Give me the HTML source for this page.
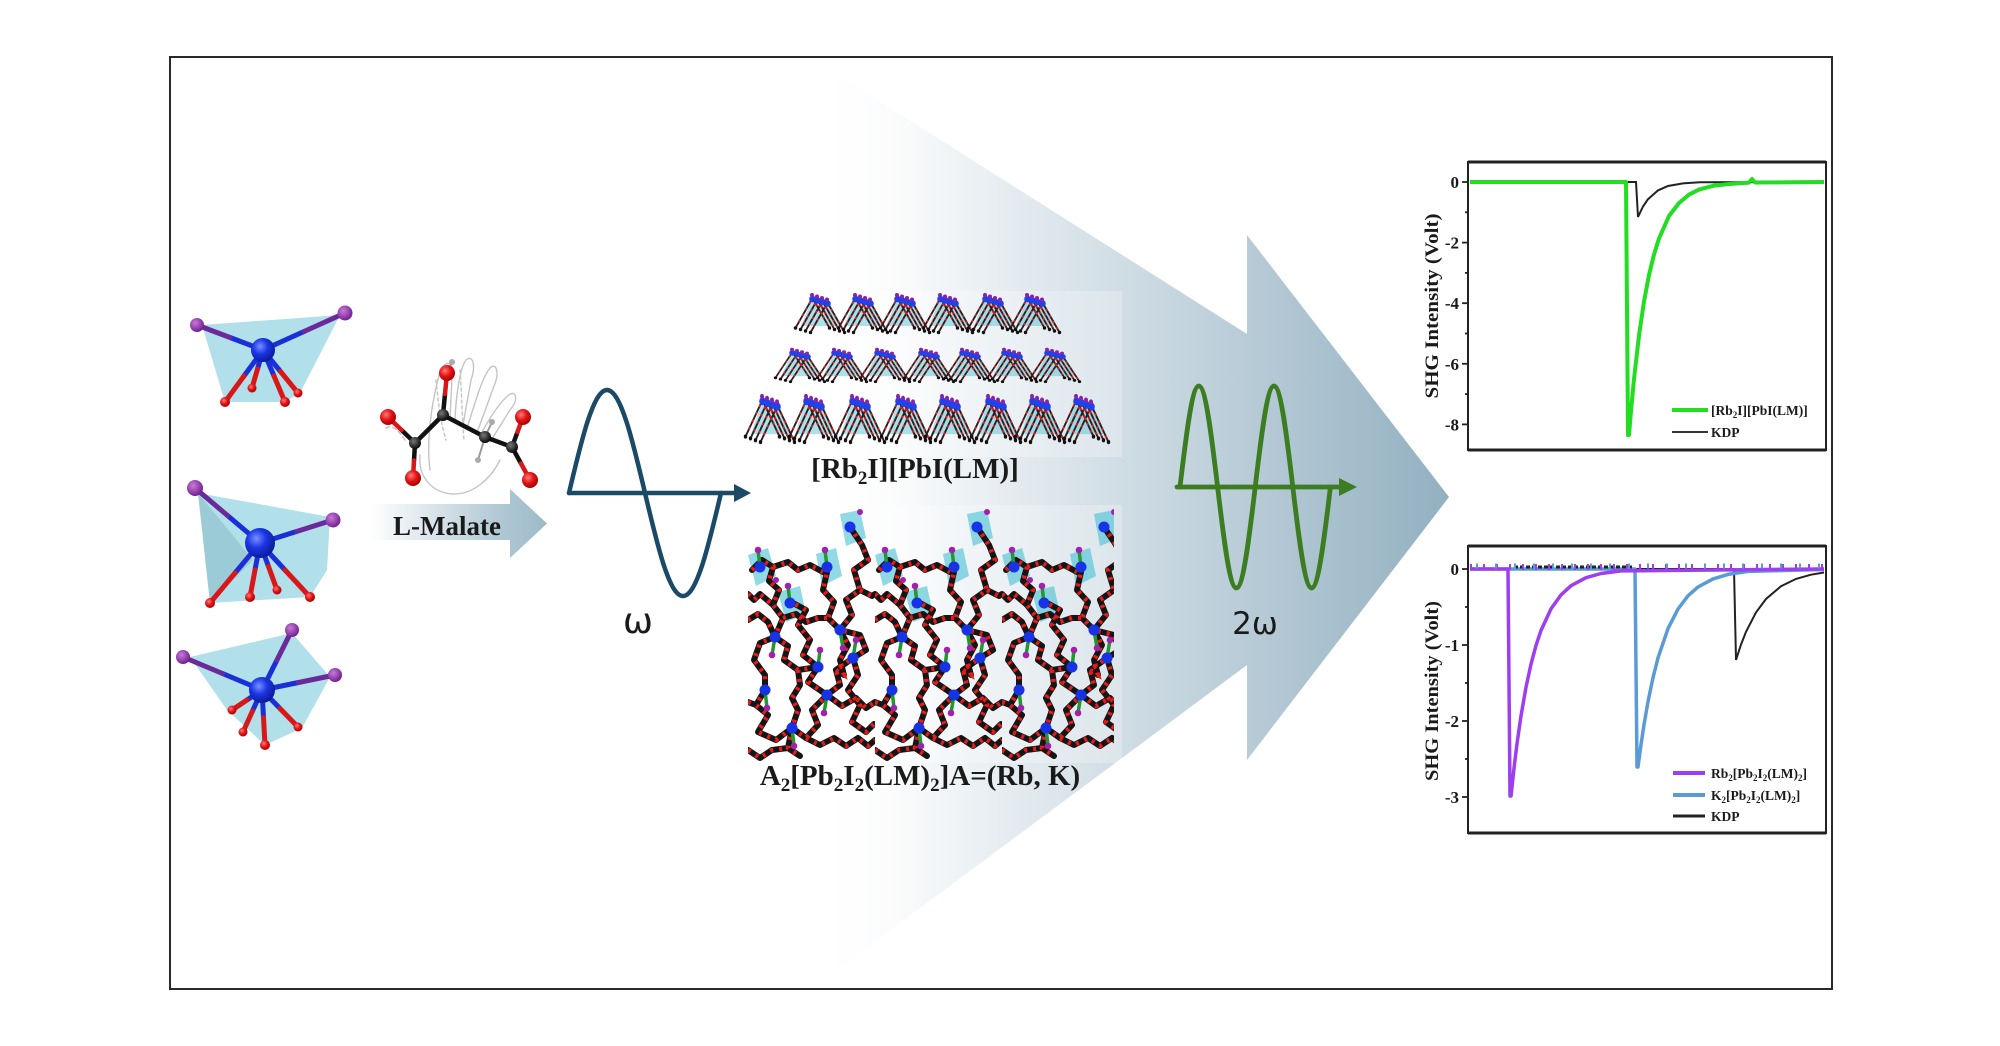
<!DOCTYPE html>
<html><head><meta charset="utf-8"><style>
html,body{margin:0;padding:0;background:#fff;}
svg{display:block;}
text{font-family:"Liberation Serif",serif;}
</style></head><body>
<svg width="2000" height="1046" viewBox="0 0 2000 1046" xmlns="http://www.w3.org/2000/svg">
<defs>
 <linearGradient id="ga" gradientUnits="userSpaceOnUse" x1="830" y1="0" x2="1450" y2="0">
  <stop offset="0" stop-color="#ffffff"/><stop offset="0.1" stop-color="#fbfcfd"/><stop offset="1" stop-color="#92b0c1"/>
 </linearGradient>
 <linearGradient id="gm" gradientUnits="userSpaceOnUse" x1="370" y1="0" x2="547" y2="0">
  <stop offset="0" stop-color="#ffffff"/><stop offset="0.75" stop-color="#afc7d3"/><stop offset="1" stop-color="#9dbac9"/>
 </linearGradient>
 <radialGradient id="gPb" cx="0.38" cy="0.35" r="0.7"><stop offset="0" stop-color="#7a90ff"/><stop offset="0.45" stop-color="#1b36e6"/><stop offset="1" stop-color="#0a1890"/></radialGradient>
 <radialGradient id="gI" cx="0.38" cy="0.35" r="0.7"><stop offset="0" stop-color="#c77ad8"/><stop offset="1" stop-color="#6e1a8c"/></radialGradient>
 <radialGradient id="gO" cx="0.38" cy="0.35" r="0.7"><stop offset="0" stop-color="#ff7a7a"/><stop offset="0.5" stop-color="#e41414"/><stop offset="1" stop-color="#a00000"/></radialGradient>
 <radialGradient id="gC" cx="0.38" cy="0.35" r="0.7"><stop offset="0" stop-color="#777"/><stop offset="1" stop-color="#000"/></radialGradient>

 <g id="pkl">
  <polyline points="-24.5,30 -7.5,0 9.5,30"/>
  <polyline points="-19.5,31.5 -2.5,1.5 14.5,31.5"/>
  <polyline points="-14.5,33 2.5,3 19.5,33"/>
  <polyline points="-9.5,34.5 7.5,4.5 24.5,34.5"/>
 </g>
 <g id="pk">
  <polygon points="-7.5,0 7.5,4.5 21,28 -19,28" fill="#56c4d8" opacity=".5"/>
  <use href="#pkl" fill="none" stroke="#222" stroke-width="1.8" stroke-linejoin="round"/>
  <use href="#pkl" fill="none" stroke="#e01e1e" stroke-width="2" stroke-dasharray="2 5"/>
  <g fill="#2242e8"><circle cx="-7.5" cy="1" r="3.3"/><circle cx="-2.5" cy="2.5" r="3.3"/><circle cx="2.5" cy="4" r="3.3"/><circle cx="7.5" cy="5.5" r="3.3"/></g>
  <g fill="#8d1fa8"><circle cx="-8" cy="-3" r="2"/><circle cx="-3" cy="-1.5" r="2"/><circle cx="2" cy="0" r="2"/><circle cx="7" cy="1.5" r="2"/></g>
  <g fill="#111"><circle cx="-24.5" cy="30" r="1.7"/><circle cx="-19.5" cy="31.5" r="1.7"/><circle cx="-14.5" cy="33" r="1.7"/><circle cx="-9.5" cy="34.5" r="1.7"/><circle cx="9.5" cy="30" r="1.7"/><circle cx="14.5" cy="31.5" r="1.7"/><circle cx="19.5" cy="33" r="1.7"/><circle cx="24.5" cy="34.5" r="1.7"/></g>
 </g>

 <g id="chains">
  <path d="M4,60 L14,50 L25,57 L21,71 L31,80 L25,95 L35,108 L27,127"/>
  <path d="M27,127 L40,136 L36,150 L50,160 L70,157"/>
  <path d="M70,157 L60,172 L79,185"/>
  <path d="M79,185 L92,175 L88,160 L105,148"/>
  <path d="M105,148 L118,140 L112,125 L92,120"/>
  <path d="M92,120 L80,108 L86,92 L75,80 L79,62"/>
  <path d="M92,120 L104,105 L98,90 L112,80 L106,60 L120,50 L114,35 L104,20"/>
  <path d="M17,180 L8,195 L20,205 L10,222 L28,230 L44,218"/>
  <path d="M44,218 L58,228 L70,215 L64,200 L79,185"/>
  <path d="M27,127 L12,133 L6,150 L17,165 L17,180"/>
  <path d="M105,148 L110,165 L100,180 L112,195 L104,212 L118,222 L126,214"/>
  <path d="M70,157 L55,145 L62,130 L50,115 L58,100 L45,93"/>
  <path d="M44,218 L40,238 L52,246"/>
  <path d="M0,110 L10,104 L20,112 L27,127"/>
  <path d="M35,108 L48,104 L58,112 L70,108 L80,108"/>
  <path d="M50,160 L52,175 L44,188 L50,200 L44,218"/>
  <path d="M88,160 L96,165 L92,150 L100,135 L92,120"/>
  <path d="M0,240 L12,248 L24,240 L40,238"/>
  <path d="M58,228 L72,235 L86,228 L98,236 L110,228 L120,236 L127,230"/>
  <path d="M79,185 L94,196 L108,188 L118,198 L127,192"/>
  <path d="M0,192 L8,195"/>
  <path d="M25,57 L40,52 L50,60 L62,55 L75,62"/>
  <path d="M112,80 L124,86 L127,84"/>
  <path d="M0,84 L6,90 L12,84 L25,95"/>
 </g>
 <pattern id="net" patternUnits="userSpaceOnUse" x="748" y="500" width="127" height="270">
  <g transform="translate(0,10)">
   <g fill="#45bfd4" opacity=".6">
    <polygon points="0,45 20,38 28,66 8,76"/>
    <polygon points="68,44 88,38 94,66 74,76"/>
    <polygon points="92,4 112,0 118,28 98,36"/>
    <polygon points="30,82 52,76 58,104 38,112"/>
   </g>
   <use href="#chains" fill="none" stroke="#151515" stroke-width="6" stroke-linecap="round" stroke-linejoin="round"/>
   <use href="#chains" fill="none" stroke="#e81a1a" stroke-width="4.5" stroke-dasharray="3 6"/>
   <g stroke="#1f9a2a" stroke-width="3.5">
    <line x1="27" y1="127" x2="24" y2="145"/><line x1="92" y1="120" x2="95" y2="138"/>
    <line x1="70" y1="157" x2="72" y2="140"/><line x1="79" y1="185" x2="76" y2="203"/>
    <line x1="17" y1="180" x2="19" y2="198"/><line x1="44" y1="218" x2="46" y2="236"/>
    <line x1="105" y1="148" x2="108" y2="130"/><line x1="12" y1="57" x2="10" y2="40"/>
    <line x1="79" y1="57" x2="77" y2="40"/><line x1="42" y1="93" x2="40" y2="76"/>
   </g>
   <g fill="#1832e6">
    <circle cx="12" cy="57" r="5.5"/><circle cx="79" cy="57" r="5.5"/><circle cx="102" cy="17" r="5.5"/>
    <circle cx="42" cy="93" r="5.5"/><circle cx="27" cy="127" r="5.5"/><circle cx="92" cy="120" r="5.5"/>
    <circle cx="105" cy="148" r="5.5"/><circle cx="70" cy="157" r="5.5"/><circle cx="17" cy="180" r="5.5"/>
    <circle cx="79" cy="185" r="5.5"/><circle cx="44" cy="218" r="5.5"/>
   </g>
   <g fill="#a21fb0">
    <circle cx="24" cy="145" r="3.3"/><circle cx="95" cy="138" r="3.3"/><circle cx="72" cy="140" r="3.3"/>
    <circle cx="76" cy="203" r="3.3"/><circle cx="19" cy="198" r="3.3"/><circle cx="46" cy="236" r="3.3"/>
    <circle cx="108" cy="130" r="3.3"/><circle cx="10" cy="40" r="3.3"/><circle cx="77" cy="40" r="3.3"/>
    <circle cx="40" cy="76" r="3.3"/><circle cx="112" cy="2" r="3"/><circle cx="28" cy="70" r="3"/>
   </g>
  </g>
 </pattern>
</defs>

<!-- frame -->
<rect x="170" y="57" width="1662" height="932" fill="#fff" stroke="#2a2a2a" stroke-width="2"/>

<!-- big arrow -->
<polygon points="830,70 1247,334 1247,235 1449,497 1247,760 1247,665 830,975" fill="url(#ga)"/>
<!-- light boxes behind crystals -->
<rect x="748" y="291" width="374" height="166" fill="#fff" opacity=".25"/>
<rect x="748" y="505" width="374" height="258" fill="#fff" opacity=".25"/>

<!-- polyhedra -->
<g>
 <polygon points="202,325 340,315 300,393 285,402 225,402" fill="#a3d9e6" opacity=".85"/>
 <g stroke-width="5" stroke-linecap="round">
  <line x1="263" y1="350" x2="230" y2="337.5" stroke="#1a2fd8"/><line x1="230" y1="337.5" x2="197" y2="325" stroke="#6b2a9a"/>
  <line x1="263" y1="350" x2="304" y2="331.5" stroke="#1a2fd8"/><line x1="304" y1="331.5" x2="345" y2="313" stroke="#6b2a9a"/>
  <line x1="263" y1="350" x2="244" y2="376" stroke="#1a2fd8"/><line x1="244" y1="376" x2="225" y2="402" stroke="#d81818"/>
  <line x1="263" y1="350" x2="257.5" y2="369" stroke="#1a2fd8"/><line x1="257.5" y1="369" x2="252" y2="388" stroke="#d81818"/>
  <line x1="263" y1="350" x2="274" y2="376" stroke="#1a2fd8"/><line x1="274" y1="376" x2="285" y2="402" stroke="#d81818"/>
  <line x1="263" y1="350" x2="280.5" y2="371.5" stroke="#1a2fd8"/><line x1="280.5" y1="371.5" x2="298" y2="393" stroke="#d81818"/>
 </g>
 <circle cx="263" cy="350" r="12" fill="url(#gPb)"/>
 <circle cx="197" cy="325" r="7" fill="url(#gI)"/><circle cx="345" cy="313" r="7.5" fill="url(#gI)"/>
 <circle cx="225" cy="402" r="5" fill="url(#gO)"/><circle cx="252" cy="388" r="4.5" fill="url(#gO)"/>
 <circle cx="285" cy="402" r="5" fill="url(#gO)"/><circle cx="298" cy="393" r="4.5" fill="url(#gO)"/>

 <polygon points="198,493 330,517 327,570 310,597 210,603" fill="#a3d9e6" opacity=".85"/>
 <polygon points="198,493 253,560 210,603" fill="#8ab9c8" opacity=".55"/>
 <g stroke-width="5" stroke-linecap="round">
  <line x1="260" y1="543" x2="227.5" y2="515.5" stroke="#1a2fd8"/><line x1="227.5" y1="515.5" x2="195" y2="488" stroke="#6b2a9a"/>
  <line x1="260" y1="543" x2="296.5" y2="531.5" stroke="#1a2fd8"/><line x1="296.5" y1="531.5" x2="333" y2="520" stroke="#6b2a9a"/>
  <line x1="260" y1="543" x2="235" y2="573" stroke="#1a2fd8"/><line x1="235" y1="573" x2="210" y2="603" stroke="#d81818"/>
  <line x1="260" y1="543" x2="255" y2="570" stroke="#1a2fd8"/><line x1="255" y1="570" x2="250" y2="597" stroke="#d81818"/>
  <line x1="260" y1="543" x2="268.5" y2="566.5" stroke="#1a2fd8"/><line x1="268.5" y1="566.5" x2="277" y2="590" stroke="#d81818"/>
  <line x1="260" y1="543" x2="285" y2="570" stroke="#1a2fd8"/><line x1="285" y1="570" x2="310" y2="597" stroke="#d81818"/>
 </g>
 <circle cx="260" cy="543" r="15" fill="url(#gPb)"/>
 <circle cx="195" cy="488" r="8" fill="url(#gI)"/><circle cx="333" cy="520" r="7.5" fill="url(#gI)"/>
 <circle cx="210" cy="603" r="5" fill="url(#gO)"/><circle cx="250" cy="597" r="5" fill="url(#gO)"/>
 <circle cx="277" cy="590" r="4.5" fill="url(#gO)"/><circle cx="310" cy="597" r="5" fill="url(#gO)"/>

 <polygon points="190,657 292,633 330,677 302,728 265,745 227,710" fill="#a3d9e6" opacity=".85"/>
 <g stroke-width="5" stroke-linecap="round">
  <line x1="262" y1="690" x2="222.5" y2="673.5" stroke="#1a2fd8"/><line x1="222.5" y1="673.5" x2="183" y2="657" stroke="#6b2a9a"/>
  <line x1="262" y1="690" x2="277" y2="660" stroke="#1a2fd8"/><line x1="277" y1="660" x2="292" y2="630" stroke="#6b2a9a"/>
  <line x1="262" y1="690" x2="298.5" y2="682.5" stroke="#1a2fd8"/><line x1="298.5" y1="682.5" x2="335" y2="675" stroke="#6b2a9a"/>
  <line x1="262" y1="690" x2="247" y2="700" stroke="#1a2fd8"/><line x1="247" y1="700" x2="232" y2="710" stroke="#d81818"/>
  <line x1="262" y1="690" x2="252.5" y2="711" stroke="#1a2fd8"/><line x1="252.5" y1="711" x2="243" y2="732" stroke="#d81818"/>
  <line x1="262" y1="690" x2="263.5" y2="717.5" stroke="#1a2fd8"/><line x1="263.5" y1="717.5" x2="265" y2="745" stroke="#d81818"/>
  <line x1="262" y1="690" x2="280" y2="708.5" stroke="#1a2fd8"/><line x1="280" y1="708.5" x2="298" y2="727" stroke="#d81818"/>
 </g>
 <circle cx="262" cy="690" r="13" fill="url(#gPb)"/>
 <circle cx="183" cy="657" r="7" fill="url(#gI)"/><circle cx="292" cy="630" r="7" fill="url(#gI)"/><circle cx="335" cy="675" r="7" fill="url(#gI)"/>
 <circle cx="232" cy="710" r="4.5" fill="url(#gO)"/><circle cx="243" cy="732" r="4.5" fill="url(#gO)"/>
 <circle cx="265" cy="745" r="5" fill="url(#gO)"/><circle cx="298" cy="727" r="4.5" fill="url(#gO)"/>
</g>

<!-- malate with hand sketch -->
<g fill="none" stroke="#c4c4c4" stroke-width="1.4" stroke-linecap="round">
 <path d="M430,470 C426,440 432,400 440,372 C446,358 454,362 452,376 L450,420"/>
 <path d="M455,420 C456,395 460,368 466,360 C473,354 476,366 471,380 L463,425"/>
 <path d="M468,425 C476,400 482,378 490,368 C496,362 500,372 494,386 L478,430"/>
 <path d="M482,432 C492,414 502,400 510,394 C517,391 518,401 510,410 L490,442"/>
 <path d="M420,455 C418,475 430,492 452,494 C472,495 490,480 500,460"/>
 <path d="M405,440 C398,430 392,424 386,428" stroke-dasharray="4 3"/>
 <path d="M436,380 C438,400 440,420 446,440" stroke-dasharray="3 3"/>
 <path d="M460,370 C462,395 462,420 464,440" stroke-dasharray="3 3"/>
</g>
<g stroke-width="4.5" stroke-linecap="round">
 <line x1="443" y1="415" x2="445" y2="394" stroke="#111"/><line x1="445" y1="394" x2="447" y2="373" stroke="#d81818"/>
 <line x1="447" y1="373" x2="452" y2="362" stroke="#999" stroke-width="2"/>
 <line x1="443" y1="415" x2="415" y2="443" stroke="#111"/>
 <line x1="415" y1="443" x2="401.5" y2="430" stroke="#111"/><line x1="401.5" y1="430" x2="388" y2="417" stroke="#d81818"/>
 <line x1="415" y1="443" x2="414" y2="460.5" stroke="#111"/><line x1="414" y1="460.5" x2="413" y2="478" stroke="#d81818"/>
 <line x1="443" y1="415" x2="485" y2="437" stroke="#111"/>
 <line x1="485" y1="437" x2="492" y2="422" stroke="#999" stroke-width="2"/>
 <line x1="485" y1="437" x2="478" y2="460" stroke="#999" stroke-width="2"/>
 <line x1="485" y1="437" x2="512" y2="447" stroke="#111"/>
 <line x1="512" y1="447" x2="517.5" y2="432" stroke="#111"/><line x1="517.5" y1="432" x2="523" y2="417" stroke="#d81818"/>
 <line x1="512" y1="447" x2="521" y2="463.5" stroke="#111"/><line x1="521" y1="463.5" x2="530" y2="480" stroke="#d81818"/>
</g>
<circle cx="447" cy="373" r="8" fill="url(#gO)"/><circle cx="388" cy="417" r="8" fill="url(#gO)"/>
<circle cx="413" cy="478" r="8" fill="url(#gO)"/><circle cx="523" cy="417" r="8" fill="url(#gO)"/>
<circle cx="530" cy="480" r="8" fill="url(#gO)"/>
<circle cx="443" cy="415" r="6" fill="url(#gC)"/><circle cx="415" cy="443" r="6" fill="url(#gC)"/>
<circle cx="485" cy="437" r="6" fill="url(#gC)"/><circle cx="512" cy="447" r="6" fill="url(#gC)"/>
<circle cx="452" cy="362" r="3" fill="#aaa"/><circle cx="492" cy="422" r="3" fill="#aaa"/><circle cx="478" cy="460" r="3" fill="#aaa"/>

<!-- L-Malate arrow -->
<polygon points="370,504 510,504 510,489 547,523.5 510,558 510,540 370,540" fill="url(#gm)"/>
<text x="447" y="535" text-anchor="middle" font-size="27" font-weight="bold" fill="#1a1a1a">L-Malate</text>

<!-- omega wave -->
<g fill="none" stroke="#1b4a66" stroke-width="4.5" stroke-linecap="round" stroke-linejoin="round">
 <path d="M569,493 C581.4,440.3 593.3,390 607,390 C620.7,390 632.6,440.3 645,493 C657.4,545.7 669.3,596 683,596 C696.7,596 708.6,545.7 721,493"/>
 <line x1="569" y1="493" x2="738" y2="493"/>
</g>
<polygon points="734,484 751,493 734,502" fill="#1b4a66"/>
<text x="638" y="633" text-anchor="middle" font-size="36" fill="#1a1a1a" style="font-family:'DejaVu Sans','Liberation Sans',sans-serif">ω</text>

<!-- 2omega wave -->
<g fill="none" stroke="#3c7d22" stroke-width="4.8" stroke-linecap="round" stroke-linejoin="round">
 <path d="M1180,487 C1186.1,435.3 1192,386 1198.8,386 C1205.6,386 1211.5,435.3 1217.6,487 C1223.7,538.7 1229.6,588 1236.4,588 C1243.2,588 1249.1,538.7 1255.2,487 C1261.3,435.3 1267.2,386 1274,386 C1280.8,386 1286.7,435.3 1292.8,487 C1298.9,538.7 1304.8,588 1311.6,588 C1318.4,588 1324.3,538.7 1330.4,487"/>
 <line x1="1177" y1="487" x2="1342" y2="487"/>
</g>
<polygon points="1339,478 1357,487 1339,496" fill="#3c7d22"/>
<text x="1255" y="634" text-anchor="middle" font-size="31" fill="#1a1a1a" style="font-family:'DejaVu Sans','Liberation Sans',sans-serif">2ω</text>

<!-- top crystal -->
<g>
 <use href="#pk" transform="translate(820,298)"/><use href="#pk" transform="translate(863,298)"/>
 <use href="#pk" transform="translate(905,298)"/><use href="#pk" transform="translate(948,298)"/>
 <use href="#pk" transform="translate(993,298)"/><use href="#pk" transform="translate(1035,298)"/>

 <use href="#pk" transform="translate(800,352) scale(1,0.86)"/><use href="#pk" transform="translate(842,352) scale(1,0.86)"/>
 <use href="#pk" transform="translate(885,352) scale(1,0.86)"/><use href="#pk" transform="translate(929,352) scale(1,0.86)"/>
 <use href="#pk" transform="translate(970,352) scale(1,0.86)"/><use href="#pk" transform="translate(1012,352) scale(1,0.86)"/>
 <use href="#pk" transform="translate(1055,352) scale(1,0.86)"/>

 <use href="#pk" transform="translate(770,400) scale(1,1.22)"/><use href="#pk" transform="translate(814,400) scale(1,1.22)"/>
 <use href="#pk" transform="translate(860,400) scale(1,1.22)"/><use href="#pk" transform="translate(906,400) scale(1,1.22)"/>
 <use href="#pk" transform="translate(950,400) scale(1,1.22)"/><use href="#pk" transform="translate(996,400) scale(1,1.22)"/>
 <use href="#pk" transform="translate(1040,400) scale(1,1.22)"/><use href="#pk" transform="translate(1084,400) scale(1,1.22)"/>
</g>
<text x="915" y="478" text-anchor="middle" font-size="29" font-weight="bold" fill="#1a1a1a">[Rb<tspan font-size="19" dy="6">2</tspan><tspan dy="-6">I][PbI(LM)]</tspan></text>

<!-- bottom crystal network -->
<rect x="748" y="505" width="366" height="262" fill="url(#net)"/>
<text x="920" y="785" text-anchor="middle" font-size="29" font-weight="bold" fill="#1a1a1a">A<tspan font-size="19" dy="6">2</tspan><tspan dy="-6">[Pb</tspan><tspan font-size="19" dy="6">2</tspan><tspan dy="-6">I</tspan><tspan font-size="19" dy="6">2</tspan><tspan dy="-6">(LM)</tspan><tspan font-size="19" dy="6">2</tspan><tspan dy="-6">]A=(Rb, K)</tspan></text>

<!-- chart 1 -->
<g>
 <path d="M1470,182 L1636,182 L1638,217 L1643,206.5 L1648,199.2 L1658,190.4 L1668,186 L1683,183.4 L1700,182.3 L1824,182" fill="none" stroke="#222" stroke-width="2"/>
 <path d="M1470,182 L1626,182 L1628,435 L1629,435 L1631,411 L1634,379 L1639,335.5 L1644,301.5 L1649,275 L1654,254.5 L1659,238.5 L1669,216 L1679,203 L1689,194.6 L1699,189.6 L1714,185.6 L1729,184 L1749,182.6 L1752,179 L1755,182.5 L1824,182" fill="none" stroke="#22dd22" stroke-width="4" stroke-linejoin="round"/>
 <rect x="1468" y="162" width="358" height="288" fill="none" stroke="#222" stroke-width="2"/>
 <line x1="1468" y1="162" x2="1826" y2="162" stroke="#222" stroke-width="3"/>
 <line x1="1468" y1="450" x2="1826" y2="450" stroke="#222" stroke-width="3"/>
 <g stroke="#222" stroke-width="1.8">
  <line x1="1462" y1="182" x2="1468" y2="182"/><line x1="1462" y1="242.6" x2="1468" y2="242.6"/>
  <line x1="1462" y1="303.2" x2="1468" y2="303.2"/><line x1="1462" y1="363.8" x2="1468" y2="363.8"/>
  <line x1="1462" y1="424.4" x2="1468" y2="424.4"/>
  <line x1="1465" y1="212.3" x2="1468" y2="212.3"/><line x1="1465" y1="272.9" x2="1468" y2="272.9"/>
  <line x1="1465" y1="333.5" x2="1468" y2="333.5"/><line x1="1465" y1="394.1" x2="1468" y2="394.1"/>
 </g>
 <g font-size="17" font-weight="bold" text-anchor="end" fill="#1a1a1a">
  <text x="1459" y="188">0</text><text x="1459" y="248.6">-2</text><text x="1459" y="309.2">-4</text>
  <text x="1459" y="369.8">-6</text><text x="1459" y="430.4">-8</text>
 </g>
 <text transform="translate(1438,306) rotate(-90)" text-anchor="middle" font-size="19" font-weight="bold" fill="#1a1a1a" textLength="185" lengthAdjust="spacingAndGlyphs">SHG Intensity (Volt)</text>
 <line x1="1672" y1="410" x2="1708" y2="410" stroke="#22dd22" stroke-width="4"/>
 <line x1="1672" y1="432" x2="1708" y2="432" stroke="#333" stroke-width="2"/>
 <text x="1711" y="415" font-size="13.5" font-weight="bold" fill="#1a1a1a">[Rb<tspan font-size="9" dy="3">2</tspan><tspan dy="-3">I][PbI(LM)]</tspan></text>
 <text x="1711" y="437" font-size="13.5" font-weight="bold" fill="#1a1a1a">KDP</text>
</g>

<!-- chart 2 -->
<g>
 <path d="M1470,569 L1734,569 L1736,660 L1741,644.6 L1746,631.8 L1756,612.4 L1766,599 L1781,586.2 L1796,578.9 L1811,574.7 L1824,572.5" fill="none" stroke="#222" stroke-width="2"/>
 <path d="M1470,569 L1635,569 L1637,767 L1638,767 L1641,744.6 L1644,724.8 L1648,701.7 L1653,677.7 L1658,657.9 L1668,628.6 L1678,609 L1688,595.8 L1698,587 L1713,578.9 L1728,574.4 L1748,571.4 L1824,569.5" fill="none" stroke="#5b9bd5" stroke-width="3.5" stroke-linejoin="round"/>
 <path d="M1470,569 L1508,569 L1510,796 L1511,796 L1514,768.3 L1517,743.8 L1521,715.9 L1526,687.2 L1531,664.1 L1536,645.5 L1541,630.5 L1551,608.9 L1561,594.9 L1571,585.7 L1586,577.7 L1601,573.5 L1621,570.9 L1824,569" fill="none" stroke="#9d3ef0" stroke-width="3.5" stroke-linejoin="round"/>
 <line x1="1514" y1="567" x2="1632" y2="567" stroke="#222" stroke-width="3" stroke-dasharray="4 2"/>
 <line x1="1470" y1="567" x2="1824" y2="567" stroke="#9d3ef0" stroke-width="6" stroke-dasharray="2 11"/>
 <line x1="1476" y1="566" x2="1824" y2="566" stroke="#5b9bd5" stroke-width="5" stroke-dasharray="2 17"/>
 <rect x="1468" y="546" width="358" height="287" fill="none" stroke="#222" stroke-width="2"/>
 <line x1="1468" y1="546" x2="1826" y2="546" stroke="#222" stroke-width="3"/>
 <line x1="1468" y1="833" x2="1826" y2="833" stroke="#222" stroke-width="3"/>
 <g stroke="#222" stroke-width="1.8">
  <line x1="1462" y1="569" x2="1468" y2="569"/><line x1="1462" y1="645" x2="1468" y2="645"/>
  <line x1="1462" y1="721" x2="1468" y2="721"/><line x1="1462" y1="797" x2="1468" y2="797"/>
  <line x1="1465" y1="607" x2="1468" y2="607"/><line x1="1465" y1="683" x2="1468" y2="683"/>
  <line x1="1465" y1="759" x2="1468" y2="759"/>
 </g>
 <g font-size="17" font-weight="bold" text-anchor="end" fill="#1a1a1a">
  <text x="1459" y="575">0</text><text x="1459" y="651">-1</text><text x="1459" y="727">-2</text><text x="1459" y="803">-3</text>
 </g>
 <text transform="translate(1438,691) rotate(-90)" text-anchor="middle" font-size="19" font-weight="bold" fill="#1a1a1a" textLength="180" lengthAdjust="spacingAndGlyphs">SHG Intensity (Volt)</text>
 <line x1="1673" y1="773" x2="1705" y2="773" stroke="#9d3ef0" stroke-width="4"/>
 <line x1="1673" y1="795" x2="1705" y2="795" stroke="#5b9bd5" stroke-width="4"/>
 <line x1="1673" y1="816" x2="1705" y2="816" stroke="#222" stroke-width="3"/>
 <text x="1711" y="778" font-size="13.5" font-weight="bold" fill="#1a1a1a">Rb<tspan font-size="9" dy="3">2</tspan><tspan dy="-3">[Pb</tspan><tspan font-size="9" dy="3">2</tspan><tspan dy="-3">I</tspan><tspan font-size="9" dy="3">2</tspan><tspan dy="-3">(LM)</tspan><tspan font-size="9" dy="3">2</tspan><tspan dy="-3">]</tspan></text>
 <text x="1711" y="800" font-size="13.5" font-weight="bold" fill="#1a1a1a">K<tspan font-size="9" dy="3">2</tspan><tspan dy="-3">[Pb</tspan><tspan font-size="9" dy="3">2</tspan><tspan dy="-3">I</tspan><tspan font-size="9" dy="3">2</tspan><tspan dy="-3">(LM)</tspan><tspan font-size="9" dy="3">2</tspan><tspan dy="-3">]</tspan></text>
 <text x="1711" y="821" font-size="13.5" font-weight="bold" fill="#1a1a1a">KDP</text>
</g>
</svg>
</body></html>
